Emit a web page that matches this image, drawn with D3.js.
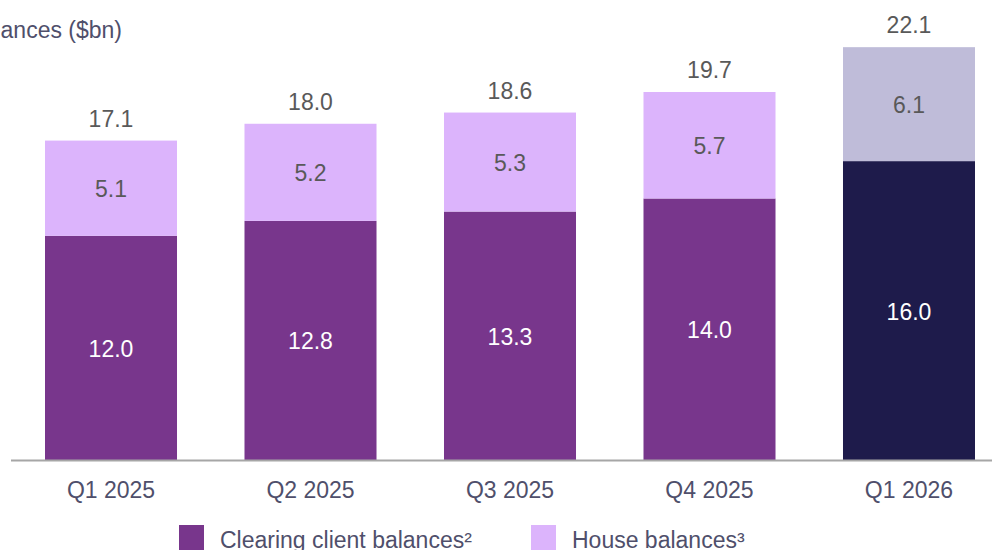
<!DOCTYPE html>
<html>
<head>
<meta charset="utf-8">
<script src="https://cdn.jsdelivr.net/npm/d3@7"></script>
<style>
  body { margin: 0; background: #fff; }
  svg { display: block; font-family: "Liberation Sans", Arial, sans-serif; }
</style>
</head>
<body>
<div id="chart"></div>
<script>
// data
var quarters = ['Q1 2025', 'Q2 2025', 'Q3 2025', 'Q4 2025', 'Q1 2026'];
var clearing = [12.0, 12.8, 13.3, 14.0, 16.0];
var house = [5.1, 5.2, 5.3, 5.7, 6.1];
var totals = [17.1, 18.0, 18.6, 19.7, 22.1];
var legendLabels = ['Clearing client balances\u00b2', 'House balances\u00b3'];

var width = 992, height = 550;
var baseY = 460;
var fs = '23px';

var clearColor = '#78368c', houseColor = '#dcb4fc';
var clearLatest = '#1e1b4b', houseLatest = '#bfbcd9';

var svg = d3.select('#chart').append('svg')
  .attr('width', width)
  .attr('height', height);

var x = d3.scaleBand()
  .domain(quarters)
  .range([45, 975])
  .paddingInner(0.3383)
  .paddingOuter(0);

var y = d3.scaleLinear()
  .domain([0, 24])
  .range([baseY, baseY - 24 * 18.68]);

var rows = quarters.map(function(q, i) {
  return {q: q, clearing: clearing[i], house: house[i], total: totals[i], latest: i == quarters.length - 1};
});

// title (cut off on the left like the source)
svg.append('text')
  .attr('x', 122)
  .attr('y', 38)
  .attr('text-anchor', 'end')
  .attr('fill', '#4f4f6b')
  .style('font-size', fs)
  .text('Client balances ($bn)');

var g = svg.selectAll('g.bar')
  .data(rows)
  .enter()
  .append('g')
  .attr('class', 'bar');

// clearing segment
g.append('rect')
  .attr('x', function(d) { return x(d.q); })
  .attr('width', x.bandwidth())
  .attr('y', function(d) { return y(d.clearing); })
  .attr('height', function(d) { return y(0) - y(d.clearing); })
  .attr('fill', function(d) { return d.latest ? clearLatest : clearColor; });

// house segment
g.append('rect')
  .attr('x', function(d) { return x(d.q); })
  .attr('width', x.bandwidth())
  .attr('y', function(d) { return y(d.clearing + d.house); })
  .attr('height', function(d) { return y(d.clearing) - y(d.clearing + d.house); })
  .attr('fill', function(d) { return d.latest ? houseLatest : houseColor; });

g.append('text')
  .attr('x', function(d) { return x(d.q) + x.bandwidth() / 2; })
  .attr('y', function(d) { return (y(0) + y(d.clearing)) / 2 + 9; })
  .attr('text-anchor', 'middle')
  .attr('fill', '#fff')
  .style('font-size', fs)
  .text(function(d) { return d.clearing.toFixed(1); });

g.append('text')
  .attr('x', function(d) { return x(d.q) + x.bandwidth() / 2; })
  .attr('y', function(d) { return (y(d.clearing) + y(d.clearing + d.house)) / 2 + 9; })
  .attr('text-anchor', 'middle')
  .attr('fill', '#595959')
  .style('font-size', fs)
  .text(function(d) { return d.house.toFixed(1); });

g.append('text')
  .attr('x', function(d) { return x(d.q) + x.bandwidth() / 2; })
  .attr('y', function(d) { return y(d.clearing + d.house) - 14; })
  .attr('text-anchor', 'middle')
  .attr('fill', '#595959')
  .style('font-size', fs)
  .text(function(d) { return d.total.toFixed(1); });

// x axis
var axis = svg.append('g')
  .attr('transform', 'translate(0,' + baseY + ')')
  .call(d3.axisBottom(x).tickSize(0).tickPadding(22));
axis.select('.domain').remove();
axis.append('line')
  .attr('x1', 11).attr('x2', width)
  .attr('y1', 0.5).attr('y2', 0.5)
  .attr('stroke', '#a6a6a6')
  .attr('stroke-width', 2);
axis.selectAll('.tick text')
  .attr('fill', '#4f4f6b')
  .style('font-size', fs)
  .style('font-family', '"Liberation Sans", Arial, sans-serif');

// legend
var legendX = [179, 531];
var legendColors = [clearColor, houseColor];
var lg = svg.selectAll('g.legend')
  .data(legendLabels)
  .enter()
  .append('g')
  .attr('class', 'legend')
  .attr('transform', function(d, i) { return 'translate(' + legendX[i] + ',525)'; });
lg.append('rect')
  .attr('width', 25)
  .attr('height', 25)
  .attr('fill', function(d, i) { return legendColors[i]; });
lg.append('text')
  .attr('x', 41)
  .attr('y', 23)
  .attr('fill', '#4f4f6b')
  .style('font-size', fs)
  .text(function(d) { return d; });
</script>
</body>
</html>
